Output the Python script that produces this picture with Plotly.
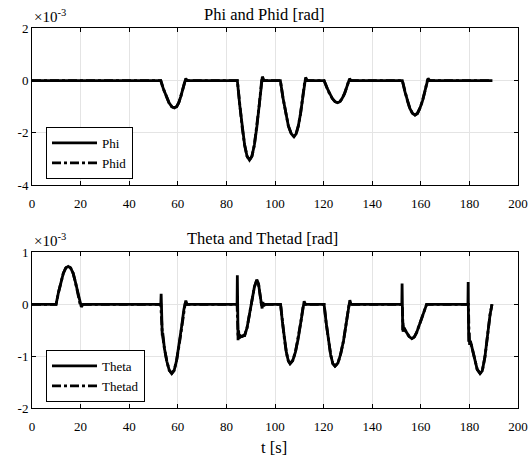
import plotly.graph_objects as go

# Roll angle response (units of 1e-3 rad)
phi_t = [0, 53.0, 54.1, 55.2, 56.4, 57.5, 58.6, 59.5, 60.4, 61.2, 62.1, 63.0, 63.3, 63.8,
         84.5, 85.5, 86.5, 87.5, 88.5, 89.5, 90.5, 91.5, 92.5, 93.5, 94.5, 94.8, 95.5,
         102.2, 103.3, 104.4, 105.5, 106.7, 107.8, 108.7, 109.6, 110.5, 111.4, 112.3, 112.6, 113.3,
         120.2, 121.3, 122.4, 123.6, 124.7, 125.8, 126.7, 127.6, 128.6, 129.5, 130.4, 130.7, 131.3,
         152.4, 153.4, 154.5, 155.5, 156.6, 157.6, 158.6, 159.6, 160.7, 161.7, 162.7, 163.0, 163.7,
         189.4]
phi_v = [0, 0, -0.33, -0.62, -0.85, -1.00, -1.05, -1.00, -0.85, -0.62, -0.33, 0.0, 0.08, 0,
         0, -0.95, -1.80, -2.47, -2.90, -3.05, -2.90, -2.47, -1.80, -0.95, 0.0, 0.15, 0,
         0, -0.67, -1.27, -1.74, -2.04, -2.15, -2.04, -1.74, -1.27, -0.67, 0, 0.12, 0,
         0, -0.26, -0.50, -0.69, -0.81, -0.85, -0.81, -0.69, -0.50, -0.26, 0, 0.07, 0,
         0, -0.41, -0.78, -1.07, -1.26, -1.32, -1.26, -1.07, -0.78, -0.41, 0, 0.08, 0,
         0]

# Roll angle reference
phid_t = [0, 53.0, 54.1, 55.2, 56.4, 57.5, 58.6, 59.5, 60.4, 61.2, 62.1, 63.0,
          84.5, 85.5, 86.5, 87.5, 88.5, 89.5, 90.5, 91.5, 92.5, 93.5, 94.5,
          102.2, 103.3, 104.4, 105.5, 106.7, 107.8, 108.7, 109.6, 110.5, 111.4, 112.3,
          120.2, 121.3, 122.4, 123.6, 124.7, 125.8, 126.7, 127.6, 128.6, 129.5, 130.4,
          152.4, 153.4, 154.5, 155.5, 156.6, 157.6, 158.6, 159.6, 160.7, 161.7, 162.7,
          189.4]
phid_v = [0, 0, -0.33, -0.62, -0.85, -1.00, -1.05, -1.00, -0.85, -0.62, -0.33, 0.0,
          0, -0.95, -1.80, -2.47, -2.90, -3.05, -2.90, -2.47, -1.80, -0.95, 0.0,
          0, -0.67, -1.27, -1.74, -2.04, -2.15, -2.04, -1.74, -1.27, -0.67, 0,
          0, -0.26, -0.50, -0.69, -0.81, -0.85, -0.81, -0.69, -0.50, -0.26, 0,
          0, -0.41, -0.78, -1.07, -1.26, -1.32, -1.26, -1.07, -0.78, -0.41, 0,
          0]

# Pitch angle response (units of 1e-3 rad)
theta_t = [0, 9.9, 10.9, 11.9, 12.9, 13.9, 14.9, 15.9, 16.9, 17.8, 18.8, 19.8, 20.3, 21.0,
           53.0, 53.15, 53.3, 53.45, 53.6, 53.8, 54.5, 55.5, 56.5, 57.5, 58.5, 59.5, 60.5, 61.5, 62.5, 63.0, 63.3, 63.8,
           84.4, 84.5, 84.6, 84.8, 85.0, 85.3, 85.7, 86.3, 87.0, 87.5, 88.5, 89.5, 90.5, 91.5, 92.5, 93.2, 93.8, 94.4, 94.7, 95.0, 95.4, 95.9,
           102.3, 103.1, 103.9, 104.7, 105.5, 106.2, 107.3, 108.4, 109.5, 110.6, 111.7, 112.0, 112.5,
           120.2, 121.1, 122.0, 122.9, 123.8, 124.7, 125.9, 127.0, 128.2, 129.3, 130.5, 130.8, 131.3,
           152.2, 152.3, 152.4, 152.55, 152.7, 152.9, 153.2, 153.6, 154.3, 155.2, 156.3, 157.3, 158.3, 159.3, 160.3, 161.3, 162.4,
           179.4, 179.5, 179.6, 179.75, 179.9, 180.1, 180.4, 180.8, 181.5, 182.3, 183.2, 184.4, 185.3, 186.4, 187.1, 187.8, 188.5, 189.3]
theta_v = [0, 0, 0.23, 0.44, 0.60, 0.70, 0.73, 0.70, 0.60, 0.44, 0.23, 0, -0.05, 0,
           0, 0.2, -0.3, -0.45, -0.6, -0.55, -0.85, -1.1, -1.27, -1.33, -1.27, -1.08, -0.80, -0.45, -0.1, 0.02, 0.07, 0,
           0, 0.56, -0.3, -0.69, -0.5, -0.66, -0.6, -0.62, -0.6, -0.6, -0.45, -0.2, 0.08, 0.33, 0.47, 0.4, 0.2, 0.0, -0.08, 0.04, -0.03, 0,
           0, -0.36, -0.68, -0.93, -1.09, -1.14, -1.08, -0.92, -0.67, -0.35, 0, 0.06, 0,
           0, -0.37, -0.71, -0.97, -1.14, -1.19, -1.13, -0.96, -0.70, -0.37, 0, 0.08, 0,
           0, 0.4, -0.2, -0.5, -0.35, -0.52, -0.45, -0.5, -0.55, -0.62, -0.66, -0.63, -0.54, -0.40, -0.27, -0.13, 0.0,
           0, 0.43, -0.3, -0.72, -0.55, -0.78, -0.7, -0.78, -0.92, -1.1, -1.25, -1.33, -1.28, -1.01, -0.75, -0.44, -0.2, 0.0]

# Pitch angle reference
thetad_t = [0, 9.9, 10.9, 11.9, 12.9, 13.9, 14.9, 15.9, 16.9, 17.8, 18.8, 19.8,
            53.0, 53.6, 54.5, 55.5, 56.5, 57.5, 58.5, 59.5, 60.5, 61.5, 62.5, 63.0,
            84.4, 84.8, 86.3, 87.5, 88.5, 89.5, 90.5, 91.5, 92.5, 93.2, 93.8, 94.4,
            102.3, 103.1, 103.9, 104.7, 105.5, 106.2, 107.3, 108.4, 109.5, 110.6, 111.7,
            120.2, 121.1, 122.0, 122.9, 123.8, 124.7, 125.9, 127.0, 128.2, 129.3, 130.5,
            152.4, 152.7, 153.6, 154.3, 155.2, 156.3, 157.3, 158.3, 159.3, 160.3, 161.3, 162.4,
            179.6, 179.9, 180.8, 181.5, 182.3, 183.2, 184.4, 185.3, 186.4, 187.1, 187.8, 188.5, 189.3]
thetad_v = [0, 0, 0.23, 0.44, 0.60, 0.70, 0.73, 0.70, 0.60, 0.44, 0.23, 0,
            0, -0.55, -0.85, -1.1, -1.27, -1.33, -1.27, -1.08, -0.80, -0.45, -0.1, 0,
            0, -0.62, -0.62, -0.6, -0.45, -0.2, 0.08, 0.33, 0.47, 0.4, 0.2, 0,
            0, -0.36, -0.68, -0.93, -1.09, -1.14, -1.08, -0.92, -0.67, -0.35, 0,
            0, -0.37, -0.71, -0.97, -1.14, -1.19, -1.13, -0.96, -0.70, -0.37, 0,
            0, -0.5, -0.5, -0.55, -0.62, -0.66, -0.63, -0.54, -0.40, -0.27, -0.13, 0,
            0, -0.72, -0.78, -0.92, -1.1, -1.25, -1.33, -1.28, -1.01, -0.75, -0.44, -0.2, 0]

x_ticks = [0, 20, 40, 60, 80, 100, 120, 140, 160, 180, 200]
y1_ticks = [-4, -2, 0, 2]
y2_ticks = [-2, -1, 0, 1]

for a, b in [(phi_t, phi_v), (phid_t, phid_v), (theta_t, theta_v), (thetad_t, thetad_v)]:
    assert len(a) == len(b)

FONT = "Liberation Serif"
W, H = 528, 459
X0, X1 = 32, 518


def py(p):
    return 1 - p / H


fig = go.Figure()
fig.add_trace(go.Scatter(x=phi_t, y=phi_v, name="Phi", mode="lines",
                         line=dict(color="black", width=2.8), xaxis="x", yaxis="y", legend="legend"))
fig.add_trace(go.Scatter(x=phid_t, y=phid_v, name="Phid", mode="lines",
                         line=dict(color="black", width=2.8, dash="dashdot"), xaxis="x", yaxis="y", legend="legend"))
fig.add_trace(go.Scatter(x=theta_t, y=theta_v, name="Theta", mode="lines",
                         line=dict(color="black", width=2.8), xaxis="x2", yaxis="y2", legend="legend2"))
fig.add_trace(go.Scatter(x=thetad_t, y=thetad_v, name="Thetad", mode="lines",
                         line=dict(color="black", width=2.8, dash="dashdot"), xaxis="x2", yaxis="y2", legend="legend2"))

axis_common = dict(showline=True, linecolor="black", linewidth=1, mirror="ticks",
                   ticks="inside", ticklen=4, tickcolor="black", showgrid=True,
                   gridcolor="#e4e4e4", gridwidth=1, zeroline=False, automargin=False,
                   ticklabeloverflow="allow",
                   tickfont=dict(family=FONT, size=13, color="black"))

legend_common = dict(xanchor="left", yanchor="top", bgcolor="white", bordercolor="black",
                     borderwidth=1, itemwidth=45, tracegroupgap=0,
                     font=dict(family=FONT, size=13, color="black"))

xdom = [X0 / W, X1 / W]
fig.update_layout(
    width=W, height=H, margin=dict(l=0, r=0, t=0, b=0, autoexpand=False),
    paper_bgcolor="white", plot_bgcolor="white",
    font=dict(family=FONT, color="black"),
    xaxis=dict(domain=xdom, range=[0, 200], tickvals=x_ticks, anchor="y",
               ticklabelstandoff=6, **axis_common),
    yaxis=dict(domain=[py(185), py(28.3)], range=[-4, 2], tickvals=y1_ticks,
               ticktext=[str(v) for v in y1_ticks], anchor="x", **axis_common),
    xaxis2=dict(domain=xdom, range=[0, 200], tickvals=x_ticks, anchor="y2",
                ticklabelstandoff=6, **axis_common),
    yaxis2=dict(domain=[py(408.3), py(252.3)], range=[-2, 1], tickvals=y2_ticks,
                ticktext=[str(v) for v in y2_ticks], anchor="x2", **axis_common),
    legend=dict(x=46 / W, y=py(127), **legend_common),
    legend2=dict(x=46 / W, y=py(350), **legend_common),
    showlegend=True,
)

ann_font = dict(family=FONT, size=16.5, color="black")
fig.add_annotation(text="Phi and Phid [rad]", x=264 / W, y=py(15), xref="paper", yref="paper",
                   showarrow=False, font=ann_font, xanchor="center", yanchor="middle")
fig.add_annotation(text="Theta and Thetad [rad]", x=262 / W, y=py(238), xref="paper", yref="paper",
                   showarrow=False, font=ann_font, xanchor="center", yanchor="middle")
fig.add_annotation(text="t [s]", x=274 / W, y=py(447), xref="paper", yref="paper",
                   showarrow=False, font=ann_font, xanchor="center", yanchor="middle")
for ytop in (28.3, 252.3):
    fig.add_annotation(text="\u00d710<sup>-3</sup>", x=32 / W, y=py(ytop - 1), xref="paper", yref="paper",
                       showarrow=False, font=dict(family=FONT, size=15, color="black"),
                       xanchor="left", yanchor="bottom")

fig.write_html("out.html")
